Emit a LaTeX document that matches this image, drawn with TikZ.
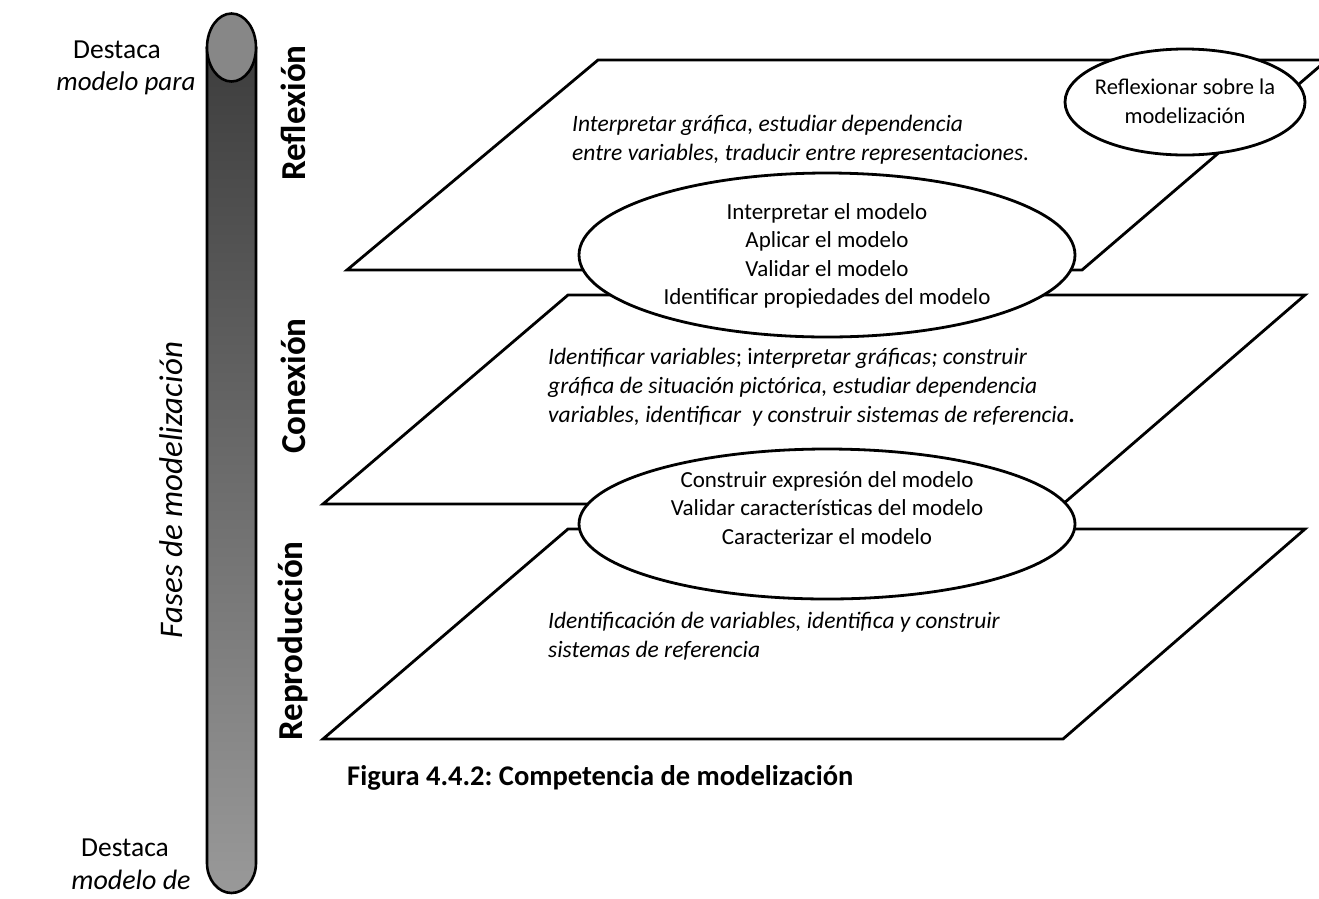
\documentclass[tikz,border=0pt]{standalone}
\usepackage{fontspec}
\setmainfont{Carlito}
\usetikzlibrary{shapes.geometric}
\frenchspacing

\tikzset{
  plane/.style={draw=black, line width=2.8pt, line join=miter, fill=white},
  bubble/.style={ellipse, draw=black, line width=2.8pt, fill=white, inner sep=0pt},
  bubbletext/.style={align=center, inner sep=0pt, font=\fontsize{23}{28.5}\selectfont},
  note/.style={align=left, inner sep=0pt, anchor=base west, font=\fontsize{23.5}{29}\selectfont\itshape},
  level/.style={rotate=90, inner sep=0pt, font=\fontsize{35}{38}\selectfont\bfseries},
  sidetext/.style={inner sep=0pt, font=\fontsize{27.5}{30}\selectfont},
}

\begin{document}
\begin{tikzpicture}[x=1pt, y=-1pt]
\useasboundingbox (0,0) rectangle (1319,898);

% --- phase bar: shaded tube with a lighter cap on top
\shade[top color=black!76, bottom color=black!40]
  (207,47) -- (207,863) arc[start angle=180, end angle=0, x radius=24.5, y radius=30]
  -- (256,47) -- cycle;
\draw[line width=2.6pt]
  (207,47) -- (207,863) arc[start angle=180, end angle=0, x radius=24.5, y radius=30]
  -- (256,47);
\draw[line width=2.6pt, fill=black!47] (231.5,47.5) ellipse[x radius=24.5, y radius=34];

\node[sidetext] (dtop) at (117,50) {Destaca};
\node[sidetext, font=\fontsize{27}{30}\selectfont\itshape] (mpara) at (126,83) {modelo para};
\node[sidetext] (dbot) at (125,848) {Destaca};
\node[sidetext, font=\fontsize{28}{30}\selectfont\itshape] (mde) at (131,880) {modelo de};
\node[rotate=90, inner sep=0pt, font=\fontsize{33}{36}\selectfont\itshape] (fases) at (171,490) {Fases de modelización};

% --- level names
\node[level] (lref) at (293,113) {Reflexión};
\node[level] (lcon) at (293,386) {Conexión};
\node[level] (lrep) at (293,641) {Reproducción};

% --- three stacked planes
\draw[plane] (568,529) -- (1305,529) -- (1063,739) -- (323,739) -- cycle;
\draw[plane] (568,295) -- (1305,295) -- (1063,504) -- (323,504) -- cycle;
\draw[plane] (598,60) -- (1327,60) -- (1082,270) -- (347,270) -- cycle;

% --- notes on each plane (anchored at the baseline of their last line)
\node[note] (nref) at (572,160) {Interpretar gráfica, estudiar dependencia\\
  entre variables, traducir entre representaciones.};
\node[note] (ncon) at (548,422) {Identificar variables{\upshape; i}nterpretar gráficas; construir\\
  gráfica de situación pictórica, estudiar dependencia\\
  variables, identificar\ \ y construir sistemas de referencia{\bfseries.}};
\node[note] (nrep) at (548,657) {Identificación de variables, identifica y construir\\
  sistemas de referencia};

% --- activity ellipses
\node[bubble, minimum width=240pt, minimum height=106pt] (ereflex) at (1185,102) {};
\node[bubbletext, font=\fontsize{22.5}{29}\selectfont] (treflex) at (1185,101) {Reflexionar sobre la\\modelización};

\node[bubble, minimum width=496pt, minimum height=164pt] (emid) at (827,255) {};
\node[bubbletext] (tmid) at (827,256) {Interpretar el modelo\\Aplicar el modelo\\Validar el modelo\\Identificar propiedades del modelo};

\node[bubble, minimum width=496pt, minimum height=150pt] (elow) at (827,524) {};
\node[bubbletext] (tlow) at (827,508) {Construir expresión del modelo\\Validar características del modelo\\Caracterizar el modelo};

% --- caption
\node[anchor=base west, inner sep=0pt, font=\fontsize{28.5}{32}\selectfont\bfseries] (cap) at (347,785)
  {Figura 4.4.2: Competencia de modelización};
\end{tikzpicture}
\end{document}
